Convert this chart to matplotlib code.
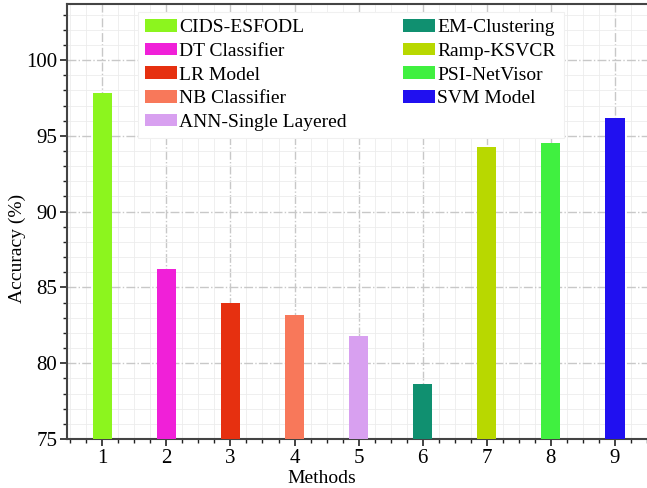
import matplotlib
matplotlib.use("Agg")
import matplotlib.pyplot as plt
from matplotlib.ticker import MultipleLocator

# Data
methods = [1, 2, 3, 4, 5, 6, 7, 8, 9]
names = ["CIDS-ESFODL", "DT Classifier", "LR Model", "NB Classifier",
         "ANN-Single Layered", "EM-Clustering", "Ramp-KSVCR", "PSI-NetVisor",
         "SVM Model"]
accuracy = [97.8, 86.2, 83.95, 83.15, 81.8, 78.6, 94.25, 94.5, 96.15]
colors = ["#8cf51e", "#f020d8", "#e63010", "#f8785a", "#d8a0f0",
          "#109070", "#b8d800", "#40f040", "#2010f0"]

plt.rcParams["font.family"] = "Liberation Serif"

fig = plt.figure(figsize=(6.47, 4.88), dpi=100)
ax = fig.add_axes([0.1036, 0.1004, 0.8964, 0.8914])

for m, a, c, n in zip(methods, accuracy, colors, names):
    ax.bar(m, a - 75, bottom=75, width=0.3, color=c, label=n, zorder=3)

ax.set_xlim(0.45, 9.5)
ax.set_ylim(75, 103.7)
ax.xaxis.set_major_locator(MultipleLocator(1))
ax.xaxis.set_minor_locator(MultipleLocator(0.25))
ax.yaxis.set_major_locator(MultipleLocator(5))
ax.yaxis.set_minor_locator(MultipleLocator(1))

ax.grid(which="major", color="#c8c8c8", linestyle="-.", linewidth=1.0, zorder=0)
ax.grid(which="minor", color="#ececec", linestyle="-", linewidth=0.6, zorder=0)

ax.tick_params(axis="both", which="major", direction="out", length=5, width=1.2,
               labelsize=15, color="#222222", pad=2)
ax.tick_params(axis="both", which="minor", direction="out", length=3, width=1,
               color="#222222")
for side in ["left", "bottom", "top"]:
    ax.spines[side].set_linewidth(1.5)
    ax.spines[side].set_color("#444444")
ax.spines["right"].set_visible(False)

ax.set_xlabel("Methods", fontsize=14)
ax.set_ylabel("Accuracy (%)", fontsize=14)
ax.xaxis.set_label_coords(0.44, -0.071)
ax.yaxis.set_label_coords(-0.071, 0.437)

leg = ax.legend(ncol=2, loc="upper left", bbox_to_anchor=(0.105, 1.005),
                fontsize=14, handlelength=1.6, handleheight=0.62,
                handletextpad=0.15, labelspacing=0.33, columnspacing=2.9,
                borderpad=0.4, fancybox=False, framealpha=1.0)
leg.get_frame().set_edgecolor("#f0f0f0")
leg.get_frame().set_linewidth(0.8)

fig.savefig("out.png", dpi=100)
